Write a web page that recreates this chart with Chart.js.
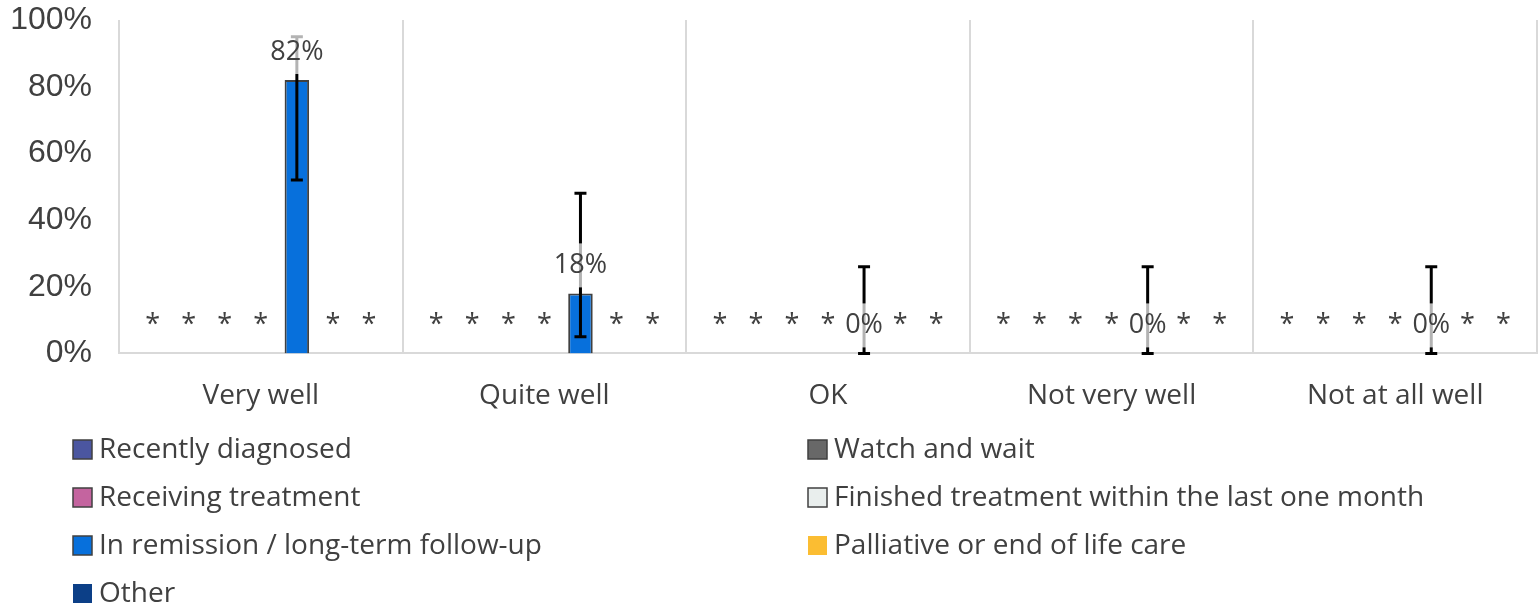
<!DOCTYPE html>
<html lang="en">
<head>
    <meta charset="UTF-8">
    <title>How well - by treatment stage</title>
    <script src="https://cdn.jsdelivr.net/npm/chart.js@4.4.0/dist/chart.umd.min.js"></script>
    <style>
        body { margin: 0; background: #fff; }
        #wrap { width: 1539px; height: 609px; }
    </style>
</head>
<body>
<div id="wrap"><canvas id="myChart" width="1539" height="609"></canvas></div>
<script>
// categories and series
var categories = ['Very well', 'Quite well', 'OK', 'Not very well', 'Not at all well'];
var seriesNames = [
    'Recently diagnosed',
    'Watch and wait',
    'Receiving treatment',
    'Finished treatment within the last one month',
    'In remission / long-term follow-up',
    'Palliative or end of life care',
    'Other'
];
var seriesColors = ['#4B56A0', '#686868', '#C4649F', '#E9EEED', '#0770DC', '#FBBD32', '#0C3F87'];
var seriesBorders = [true, true, true, true, true, false, false];

// null = suppressed (shown as *)
var recentlyDiagnosed = [null, null, null, null, null];
var watchAndWait = [null, null, null, null, null];
var receivingTreatment = [null, null, null, null, null];
var finishedTreatment = [null, null, null, null, null];
var inRemission = [82, 18, 0, 0, 0];
var palliative = [null, null, null, null, null];
var other = [null, null, null, null, null];

// confidence interval for the remission series
var remissionLower = [52, 5, 0, 0, 0];
var remissionUpper = [95, 48, 26, 26, 26];

var yTicks = [0, 20, 40, 60, 80, 100];

var allSeries = [recentlyDiagnosed, watchAndWait, receivingTreatment, finishedTreatment, inRemission, palliative, other];
var errorLow = [null, null, null, null, remissionLower, null, null];
var errorHigh = [null, null, null, null, remissionUpper, null, null];

var textColor = '#404040';
var labelFont = '"Open Sans", sans-serif';

var datasets = allSeries.map(function (values, i) {
    return {
        label: seriesNames[i],
        data: values,
        backgroundColor: seriesColors[i],
        borderColor: '#404040',
        borderWidth: seriesBorders[i] ? 2 : 0,
        categoryPercentage: 0.89,
        barPercentage: 0.68,
        errLow: errorLow[i],
        errHigh: errorHigh[i]
    };
});

// error bars + data labels (with a see-through white box like the original)
var barExtras = {
    id: 'barExtras',
    afterDatasetsDraw: function (chart) {
        var ctx = chart.ctx;
        var y = chart.scales.y;
        // error bars
        chart.data.datasets.forEach(function (ds, di) {
            if (!ds.errLow) return;
            var meta = chart.getDatasetMeta(di);
            meta.data.forEach(function (bar, i) {
                var y1 = y.getPixelForValue(ds.errLow[i]);
                var y2 = y.getPixelForValue(ds.errHigh[i]);
                ctx.save();
                ctx.strokeStyle = '#000';
                ctx.lineWidth = 3;
                ctx.beginPath();
                ctx.moveTo(bar.x, y1); ctx.lineTo(bar.x, y2);
                ctx.moveTo(bar.x - 6, y1); ctx.lineTo(bar.x + 6, y1);
                ctx.moveTo(bar.x - 6, y2); ctx.lineTo(bar.x + 6, y2);
                ctx.stroke();
                ctx.restore();
            });
        });
        // labels
        chart.data.datasets.forEach(function (ds, di) {
            var meta = chart.getDatasetMeta(di);
            meta.data.forEach(function (bar, i) {
                var v = ds.data[i];
                var top = y.getPixelForValue(v == null ? 0 : v);
                var cy = top - 28;
                var txt = v == null ? '*' : v + '%';
                ctx.save();
                ctx.font = '27px ' + labelFont;
                ctx.textAlign = 'center';
                ctx.textBaseline = 'middle';
                if (v != null) {
                    var w = ctx.measureText(txt).width;
                    ctx.fillStyle = 'rgba(255,255,255,0.7)';
                    ctx.fillRect(bar.x - w / 2 - 4, cy - 22, w + 8, 44);
                }
                ctx.fillStyle = textColor;
                ctx.fillText(txt, bar.x, cy);
                ctx.restore();
            });
        });
    },
    afterDraw: function (chart) {
        // two column legend under the chart
        var ctx = chart.ctx;
        ctx.save();
        ctx.font = '28px ' + labelFont;
        ctx.textBaseline = 'middle';
        chart.data.datasets.forEach(function (ds, i) {
            var col = i % 2, row = Math.floor(i / 2);
            var x = col === 0 ? 73 : 808;
            var cy = 449 + row * 48;
            ctx.fillStyle = ds.backgroundColor;
            ctx.fillRect(x, cy - 9, 19, 19);
            if (seriesBorders[i]) {
                ctx.strokeStyle = '#404040';
                ctx.lineWidth = 1.5;
                ctx.strokeRect(x, cy - 9, 19, 19);
            }
            ctx.fillStyle = textColor;
            ctx.fillText(ds.label, x + 26, cy + 1);
        });
        ctx.restore();
    }
};

var ctx = document.getElementById('myChart').getContext('2d');
var myChart = new Chart(ctx, {
    type: 'bar',
    data: { labels: categories, datasets: datasets },
    options: {
        responsive: false,
        animation: false,
        layout: { padding: { top: 20, right: 2, bottom: 170, left: 0 } },
        plugins: {
            legend: { display: false },
            tooltip: { enabled: false }
        },
        scales: {
            x: {
                grid: { display: true, offset: true, color: '#D9D9D9', lineWidth: 2, drawTicks: false },
                border: { display: true, color: '#D9D9D9', width: 2 },
                ticks: { color: textColor, font: { family: labelFont, size: 28 }, padding: 26, maxRotation: 0 }
            },
            y: {
                min: 0,
                max: 100,
                afterBuildTicks: function (scale) {
                    scale.ticks = yTicks.map(function (v) { return { value: v }; });
                },
                afterFit: function (scale) {
                    scale.width = 119;
                    scale.paddingTop = 0;
                    scale.paddingBottom = 0;
                },
                grid: { display: false },
                border: { display: false },
                ticks: {
                    color: textColor,
                    padding: 19,
                    font: { family: '"Liberation Sans", Arial, sans-serif', size: 32 },
                    callback: function (v) { return v + '%'; }
                }
            }
        }
    },
    plugins: [barExtras]
});
</script>
</body>
</html>
